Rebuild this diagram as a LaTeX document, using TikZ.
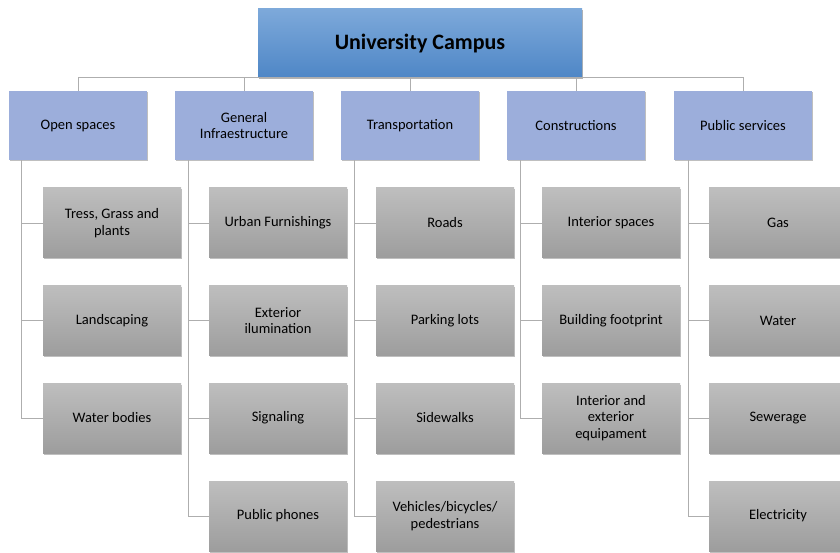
\documentclass[tikz,border=0pt]{standalone}
\usepackage{fontspec}
\setmainfont{Carlito}
\usetikzlibrary{shadows}
\definecolor{racinehaut}{HTML}{7DA9DA}
\definecolor{racinebas}{HTML}{4E86C6}
\definecolor{bleucat}{HTML}{9CAEDB}
\definecolor{grishaut}{HTML}{BEBEBE}
\definecolor{grisbas}{HTML}{9D9D9D}
\definecolor{trait}{HTML}{AEAEAE}
\begin{document}
\begin{tikzpicture}[x=1pt, y=1pt]
			\tikzset{racine/.style={rectangle, top color=racinehaut, bottom color=racinebas, draw=none, minimum width=324pt, minimum height=69pt, font=\fontsize{22}{26}\selectfont\bfseries, drop shadow={shadow xshift=1pt, shadow yshift=-1.5pt, opacity=0.6}},
				categorie/.style={rectangle, fill=bleucat, minimum width=138pt, minimum height=69pt, align=center, font=\fontsize{14.5}{16.5}\selectfont, drop shadow={shadow xshift=1pt, shadow yshift=-1.5pt, opacity=0.5}},
				element/.style={rectangle, top color=grishaut, bottom color=grisbas, minimum width=138pt, minimum height=70pt, align=center, font=\fontsize{14.5}{16.5}\selectfont, drop shadow={shadow xshift=1pt, shadow yshift=-1.5pt, opacity=0.5}},
				lien/.style={draw=trait, line width=0.9pt}};

			\useasboundingbox (0,0) rectangle (840,-553);

			\node[racine] (campus) at ( 420,  -43.5) {University Campus};

			\node[categorie] (open)  at (  78, -125.5) {Open spaces};
			\node[categorie] (infra) at ( 244, -125.5) {General\\Infraestructure};
			\node[categorie] (trans) at ( 410, -125.5) {Transportation};
			\node[categorie] (const) at ( 576, -125.5) {Constructions};
			\node[categorie] (publ)  at ( 743, -125.5) {Public services};

			% ligne du haut
			\draw[lien] (open.north) -- ++(0,13) -| (publ.north);
			\draw[lien] (infra.north) -- ++(0,13);
			\draw[lien] (trans.north) -- ++(0,13);
			\draw[lien] (const.north) -- ++(0,13);

			\node[element] (open1) at ( 112, -223) {Tress, Grass and\\plants};
			\node[element] (open2) at ( 112, -320.5) {Landscaping};
			\node[element] (open3) at ( 112, -418) {Water bodies};

			\node[element] (infra1) at ( 278, -223) {Urban Furnishings};
			\node[element] (infra2) at ( 278, -320.5) {Exterior\\ilumination};
			\node[element] (infra3) at ( 278, -418) {Signaling};
			\node[element] (infra4) at ( 278, -516) {Public phones};

			\node[element] (trans1) at ( 445, -223) {Roads};
			\node[element] (trans2) at ( 445, -320.5) {Parking lots};
			\node[element] (trans3) at ( 445, -418) {Sidewalks};
			\node[element] (trans4) at ( 445, -516) {Vehicles/bicycles/\\pedestrians};

			\node[element] (const1) at ( 611, -223) {Interior spaces};
			\node[element] (const2) at ( 611, -320.5) {Building footprint};
			\node[element] (const3) at ( 611, -418) {Interior and\\exterior\\equipament};

			\node[element] (publ1) at ( 778, -223) {Gas};
			\node[element] (publ2) at ( 778, -320.5) {Water};
			\node[element] (publ3) at ( 778, -418) {Sewerage};
			\node[element] (publ4) at ( 778, -516) {Electricity};

			% branches
			\draw[lien] ([xshift=13pt]open.south west) |- (open1.west);
			\draw[lien] ([xshift=13pt]open.south west) |- (open2.west);
			\draw[lien] ([xshift=13pt]open.south west) |- (open3.west);

			\draw[lien] ([xshift=14pt]infra.south west) |- (infra1.west);
			\draw[lien] ([xshift=14pt]infra.south west) |- (infra2.west);
			\draw[lien] ([xshift=14pt]infra.south west) |- (infra3.west);
			\draw[lien] ([xshift=14pt]infra.south west) |- (infra4.west);

			\draw[lien] ([xshift=14pt]trans.south west) |- (trans1.west);
			\draw[lien] ([xshift=14pt]trans.south west) |- (trans2.west);
			\draw[lien] ([xshift=14pt]trans.south west) |- (trans3.west);
			\draw[lien] ([xshift=14pt]trans.south west) |- (trans4.west);

			\draw[lien] ([xshift=14pt]const.south west) |- (const1.west);
			\draw[lien] ([xshift=14pt]const.south west) |- (const2.west);
			\draw[lien] ([xshift=14pt]const.south west) |- (const3.west);

			\draw[lien] ([xshift=15pt]publ.south west) |- (publ1.west);
			\draw[lien] ([xshift=15pt]publ.south west) |- (publ2.west);
			\draw[lien] ([xshift=15pt]publ.south west) |- (publ3.west);
			\draw[lien] ([xshift=15pt]publ.south west) |- (publ4.west);

		\end{tikzpicture}
\end{document}
